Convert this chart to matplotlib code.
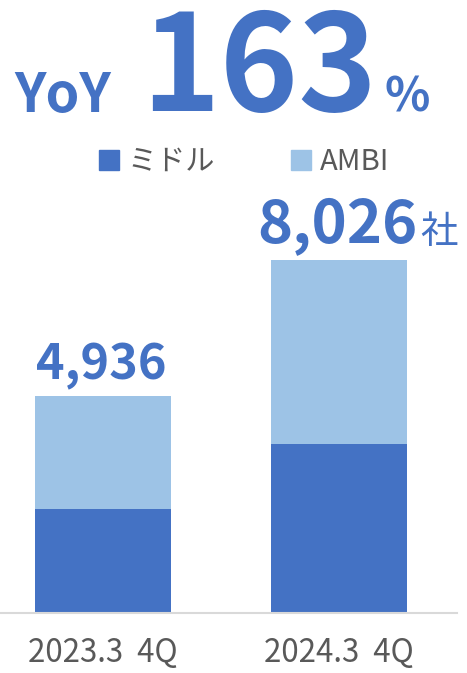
import matplotlib
matplotlib.use("Agg")
import matplotlib.pyplot as plt
from matplotlib.patches import Patch

# data
categories = ["2023.3  4Q", "2024.3  4Q"]
middle = [2366, 3843]
ambi = [2570, 4183]
totals = [4936, 8026]
series_names = ["ミドル", "AMBI"]
yoy_value = "163"

DARK = "#4472C4"
LIGHT = "#9DC3E6"
GRAY = "#595959"
FONT = ["Noto Sans CJK JP", "DejaVu Sans"]
plt.rcParams["font.family"] = FONT

fig = plt.figure(figsize=(4.67, 6.73), dpi=100)
ax = fig.add_axes([0, 60 / 673, 457 / 467, 413 / 673])

x = list(range(len(categories)))
ax.bar(x, middle, width=0.576, color=DARK, label=series_names[0])
ax.bar(x, ambi, width=0.576, bottom=middle, color=LIGHT, label=series_names[1])

ax.set_xlim(-0.436, 1.5)
ax.set_ylim(0, 9390)
ax.set_yticks([])
ax.set_xticks(x)
ax.set_xticklabels(categories, fontsize=22.5, color=GRAY)
ax.tick_params(axis="x", length=0, pad=17)
for s in ["top", "left", "right"]:
    ax.spines[s].set_visible(False)
ax.spines["bottom"].set_color("#D9D9D9")
ax.spines["bottom"].set_linewidth(1.5)

# value labels
sizes = [35, 43]
for i, t in enumerate(totals):
    ax.annotate(f"{t:,}", xy=(i, t), xytext=(-2, 17), textcoords="offset pixels",
                ha="center", va="baseline", fontsize=sizes[i],
                fontweight="bold", color=DARK)
ax.annotate("社", xy=(1, totals[1]), xytext=(81, 17), textcoords="offset pixels",
            ha="left", va="baseline", fontsize=27, color=DARK)

# headline
fig.text(14 / 467, 1 - 112 / 673, "YoY", fontsize=39, fontweight="bold",
         color=DARK, ha="left", va="baseline")
fig.text(259 / 467, 1 - 111 / 673, yoy_value, fontsize=96, fontweight="bold",
         color=DARK, ha="center", va="baseline")
fig.text(384 / 467, 1 - 112 / 673, "%", fontsize=34, fontweight="bold",
         color=DARK, ha="left", va="baseline")

# legend
handles = [Patch(color=DARK, label=series_names[0]),
           Patch(color=LIGHT, label=series_names[1])]
fig.legend(handles=handles, loc="center", bbox_to_anchor=(244 / 467, 1 - 162 / 673),
           ncol=2, frameon=False, fontsize=21, handlelength=0.7, handleheight=0.7,
           handletextpad=0.3, columnspacing=2.6, labelcolor=GRAY)

fig.savefig("out.png", dpi=100)
